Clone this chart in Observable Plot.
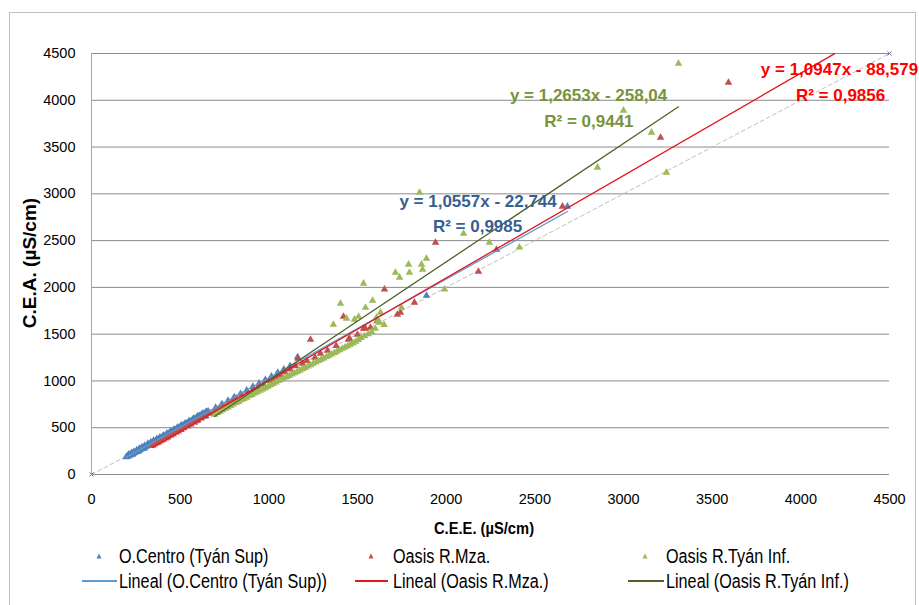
<!DOCTYPE html>
<html>
<head>
<meta charset="utf-8">
<script src="https://cdn.jsdelivr.net/npm/d3@7"></script>
<script src="https://cdn.jsdelivr.net/npm/@observablehq/plot@0.6"></script>
<style>
  body { margin: 0; background: #fff; }
  #wrap { position: relative; width: 919px; height: 605px; overflow: hidden; font-family: "Liberation Sans", Arial, sans-serif; background:#fff; }
  #frame { position: absolute; left: 9px; top: 12px; width: 907px; height: 600px; border: 1px solid #BFBFBF; box-sizing: border-box; }
  #chart { position: absolute; left: 0; top: 0; }
  .lbl { position: absolute; white-space: nowrap; color: #000; }
  .legtext { font-size: 20px; line-height: 24px; transform: scaleX(0.81); transform-origin: left center; }
</style>
</head>
<body>
<div id="wrap">
  <div id="frame"></div>
  <div id="chart"></div>
</div>
<script>
// ---- data ----
const seriesNames = ["O.Centro (Tyán Sup)", "Oasis R.Mza.", "Oasis R.Tyán Inf."];
const trendNames = ["Lineal (O.Centro (Tyán Sup))", "Lineal (Oasis R.Mza.)", "Lineal (Oasis R.Tyán Inf.)"];

const xTicks = [0, 500, 1000, 1500, 2000, 2500, 3000, 3500, 4000, 4500];
const yTicks = [0, 500, 1000, 1500, 2000, 2500, 3000, 3500, 4000, 4500];

const centroCEE = [195,200,204,208,212,216,220,224,228,232,236,240,244,248,252,256,260,264,268,272,276,280,285,290,295,300,305,310,315,320,325,330,336,342,348,354,360,366,372,378,384,390,396,402,408,415,422,429,436,443,450,458,466,474,482,490,498,506,514,522,530,538,546,554,562,570,578,586,594,602,610,618,626,634,642,650,658,700,735,770,805,840,875,910,945,980,1015,1050,1085,1120,1162,1889,2684,
  210,225,238,255,270,285,300,318,335,350,368,385,405,425,445,465,485,505,528,550,575,600,625,648,
  230,262,296,332,372,412,456,500,545,590,636];
const centroCEA = [186,192,198,196,204,210,208,215,220,223,226,232,235,240,243,248,250,256,258,265,268,272,276,283,287,292,296,304,307,315,318,326,330,338,342,350,356,362,367,376,380,388,393,400,406,413,420,428,436,444,452,460,470,478,488,496,505,514,522,532,540,548,558,566,574,584,592,600,610,618,628,636,644,652,662,668,676,716,752,790,828,862,900,940,975,1012,1050,1088,1125,1160,1255,1913,2865,
  215,228,242,262,278,292,310,330,345,362,380,398,418,440,462,482,503,525,548,572,598,625,650,672,
  212,245,278,312,352,392,438,482,528,572,618];

const mzaCEE = [344,355,365,375,385,395,405,418,430,445,460,475,490,505,520,540,560,580,600,620,645,670,695,720,745,770,795,820,850,880,910,940,970,1000,1026,1040,1066,1090,1120,1150,1165,1190,1215,1235,1260,1291,1331,1380,1421,1449,1455,1500,1534,1545,1573,1610,1652,1725,1742,1821,1940,2182,2284,2656,3209,3592];
const mzaCEA = [310,322,335,342,355,364,372,388,398,415,430,448,462,478,496,515,536,556,578,600,625,652,680,705,735,760,790,815,845,875,905,935,965,1000,1005,1045,1058,1095,1125,1160,1240,1186,1215,1443,1250,1293,1325,1375,1689,1443,1454,1495,1561,1561,1571,1640,1978,1710,1732,1839,2480,2170,2405,2865,3602,4190];

const tyanCEE = [694,710,725,740,755,770,785,800,815,830,845,860,875,890,905,920,935,950,965,980,995,1010,1025,1040,1055,1070,1085,1100,1115,1130,1145,1160,1175,1190,1205,1220,1235,1250,1265,1280,1295,1310,1325,1340,1355,1370,1385,1400,1415,1430,1445,1460,1475,1490,1505,1520,1540,1560,1580,1600,1607,1614,1625,1630,1650,1748,1364,1404,1438,1483,1506,1534,1545,1585,1714,1737,1788,1793,1850,1861,1867,1889,1991,2098,2244,2413,2853,3000,3158,3242,3310];
const tyanCEA = [640,660,672,688,705,718,735,750,765,778,795,808,822,840,852,868,882,898,910,925,940,955,970,985,1000,1012,1028,1042,1055,1070,1085,1098,1112,1128,1140,1155,1170,1185,1198,1215,1228,1242,1258,1270,1285,1300,1315,1330,1345,1360,1372,1390,1405,1420,1440,1460,1480,1500,1525,1560,1678,1636,1625,1732,1600,1785,1603,1828,1668,1657,1689,2042,1785,1860,2159,2106,2245,2159,3014,2245,2191,2309,1978,2576,2480,2427,3282,3891,3656,3228,4393];

// trendlines (Excel linear fits as displayed)
const slopes = [1.0557, 1.0947, 1.2653];
const intercepts = [-22.744, -88.579, -258.04];
const trendFrom = [192, 344, 694];
const trendTo = [2684, 4191, 3310];
const eqTexts = ["y = 1,0557x - 22,744", "y = 1,0947x - 88,579", "y = 1,2653x - 258,04"];
const r2Texts = ["R² = 0,9985", "R² = 0,9856", "R² = 0,9441"];

// 1:1 reference line
const refLine = [0, 4500];

// ---- styles / layout ----
const markerColors = ["#4F81BD", "#C0504D", "#9BBB59"];
const trendColors = ["#5B9BD5", "#E3161B", "#4F6228"];
const eqColors = ["#376092", "#FF0000", "#77933C"];
// label anchors in data space: [x, y] for equation and R² lines
const eqAnchor = [[2180, 2918], [4218, 4324], [2803, 4046]];
const r2Anchor = [[2177, 2651], [4224, 4046], [2805, 3773]];

const xs = [centroCEE, mzaCEE, tyanCEE];
const ys = [centroCEA, mzaCEA, tyanCEA];

const pts = xs.map((arr, i) => arr.map((x, j) => ({x, y: ys[i][j]})));
const trends = slopes.map((m, i) => [trendFrom[i], trendTo[i]].map(x => ({x, y: m * x + intercepts[i]})));

const marks = [
  Plot.ruleY(yTicks.filter(d => d > 0), {stroke: "#8C8C8C", strokeWidth: 1}),
  Plot.ruleY([0], {stroke: "#8C8C8C", strokeWidth: 1}),
  Plot.ruleX([0], {stroke: "#A6A6A6", strokeWidth: 1}),
  Plot.line(refLine.map(v => ({x: v, y: v})), {x: "x", y: "y", stroke: "#BFBFBF", strokeWidth: 1, strokeDasharray: "4,3"}),
  Plot.dot(refLine.map(v => ({x: v, y: v})), {x: "x", y: "y", symbol: "times", r: 2, stroke: "#8064A2", strokeWidth: 1})
];
pts.forEach((p, i) => {
  marks.push(Plot.dot(p, {x: "x", y: "y", symbol: "triangle", r: 2.8, fill: markerColors[i], stroke: "none"}));
});
trends.forEach((t, i) => {
  marks.push(Plot.line(t, {x: "x", y: "y", stroke: trendColors[i], strokeWidth: 1.3}));
});
eqTexts.forEach((t, i) => {
  marks.push(Plot.text([t], {x: () => eqAnchor[i][0], y: () => eqAnchor[i][1], text: d => d, fill: eqColors[i], fontSize: 17, fontWeight: "bold", textAnchor: "middle"}));
  marks.push(Plot.text([r2Texts[i]], {x: () => r2Anchor[i][0], y: () => r2Anchor[i][1], text: d => d, fill: eqColors[i], fontSize: 17, fontWeight: "bold", textAnchor: "middle"}));
});

const chart = Plot.plot({
  width: 919,
  height: 540,
  marginLeft: 91,
  marginRight: 30,
  marginTop: 53,
  marginBottom: 66,
  style: {fontFamily: "'Liberation Sans', Arial, sans-serif", fontSize: "14.5px", color: "#000", background: "transparent", overflow: "visible"},
  x: {domain: [0, 4500], ticks: xTicks, tickSize: 0, tickPadding: 19, tickFormat: d => String(d), label: null},
  y: {domain: [0, 4500], ticks: yTicks, tickSize: 0, tickPadding: 16, tickFormat: d => String(d), label: null},
  marks
});
document.getElementById("chart").appendChild(chart);

// ---- axis titles & legend (HTML) ----
const wrap = document.getElementById("wrap");
function addLabel(text, css) {
  const el = document.createElement("div");
  el.className = "lbl";
  el.textContent = text;
  Object.assign(el.style, css);
  wrap.appendChild(el);
  return el;
}
addLabel("C.E.E. (µS/cm)", {fontWeight: "bold", fontSize: "16px", lineHeight: "18px", left: "484px", top: "520px", transform: "translateX(-50%) scaleX(0.92)"});
addLabel("C.E.A. (µS/cm)", {fontWeight: "bold", fontSize: "19px", lineHeight: "22px", left: "30px", top: "263px", transform: "translate(-50%,-50%) rotate(-90deg)"});

const legendCols = [
  {marker: 99, text: 119, lineFrom: 82, lineTo: 117},
  {marker: 371, text: 393, lineFrom: 355, lineTo: 388},
  {marker: 645, text: 666, lineFrom: 628, lineTo: 664}
];
const row1 = 556, row2 = 581;
seriesNames.forEach((name, i) => {
  const c = legendCols[i];
  const m = document.createElementNS("http://www.w3.org/2000/svg", "svg");
  m.setAttribute("width", 8); m.setAttribute("height", 8);
  m.style.position = "absolute"; m.style.left = (c.marker - 4) + "px"; m.style.top = (row1 - 4) + "px";
  const poly = document.createElementNS("http://www.w3.org/2000/svg", "polygon");
  poly.setAttribute("points", "4,1.5 6.5,6.5 1.5,6.5");
  poly.setAttribute("fill", markerColors[i]);
  m.appendChild(poly);
  wrap.appendChild(m);
  const t = addLabel(name, {left: c.text + "px", top: (row1 - 12) + "px"});
  t.classList.add("legtext");

  const ln = document.createElement("div");
  Object.assign(ln.style, {position: "absolute", left: c.lineFrom + "px", top: (row2 - 1) + "px", width: (c.lineTo - c.lineFrom) + "px", height: "2px", background: trendColors[i]});
  wrap.appendChild(ln);
  const t2 = addLabel(trendNames[i], {left: c.text + "px", top: (row2 - 12) + "px"});
  t2.classList.add("legtext");
});
</script>
</body>
</html>
